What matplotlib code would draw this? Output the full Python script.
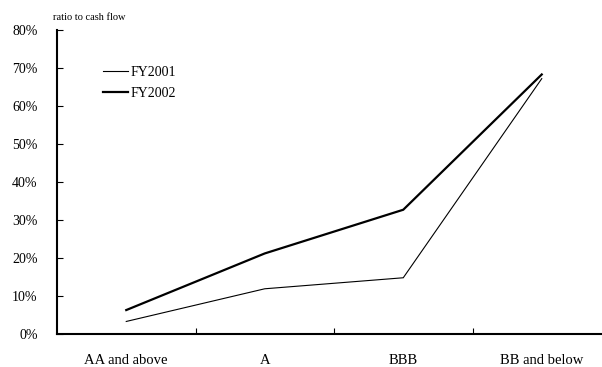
import matplotlib
matplotlib.use("Agg")
import matplotlib.pyplot as plt
from matplotlib.ticker import FuncFormatter, FixedLocator

categories = ["AA and above", "A", "BBB", "BB and below"]
fy2001 = [3.3, 11.9, 14.8, 67.2]
fy2002 = [6.3, 21.2, 32.7, 68.3]
yticks = [0, 10, 20, 30, 40, 50, 60, 70, 80]

plt.rcParams['font.family'] = ['Liberation Serif', 'DejaVu Serif']

W, H = 602, 367
fig = plt.figure(figsize=(W / 100, H / 100), dpi=100)
left, right, bottom, top = 57, 611, 334, 30
ax = fig.add_axes([left / W, (H - bottom) / H, (right - left) / W, (bottom - top) / H])

x = list(range(len(categories)))
ax.plot(x, fy2001, color='black', lw=0.8, label='FY2001', solid_joinstyle='miter')
ax.plot(x, fy2002, color='black', lw=1.6, label='FY2002', solid_joinstyle='miter')

ax.set_xlim(-0.5, len(categories) - 0.5)
ax.set_ylim(0, 80)
ax.set_yticks(yticks)
ax.yaxis.set_major_formatter(FuncFormatter(lambda v, p: f"{int(v)}%"))
ax.set_xticks(x)
ax.set_xticklabels(categories)
ax.xaxis.set_minor_locator(FixedLocator([i + 0.5 for i in x[:-1]]))

for s in ['top', 'right']:
    ax.spines[s].set_visible(False)
for s in ['left', 'bottom']:
    ax.spines[s].set_linewidth(1.5)
    ax.spines[s].set_color('black')

ax.tick_params(axis='y', direction='in', length=4, width=0.8, labelsize=10, pad=14)
ax.tick_params(axis='x', which='major', length=0, labelsize=10.5, pad=14.5)
ax.tick_params(axis='x', which='minor', direction='in', length=4, width=0.8)

fig.text(53 / W, 1 - 17 / H, "ratio to cash flow", fontsize=7.5, ha='left', va='center')

leg = ax.legend(loc='upper left', bbox_to_anchor=(103 / W, 1 - 66 / H),
                bbox_transform=fig.transFigure, frameon=False, fontsize=10,
                handlelength=1.8, handletextpad=0.2, labelspacing=0.55,
                borderpad=0, borderaxespad=0)

fig.savefig("out.png", dpi=100)
